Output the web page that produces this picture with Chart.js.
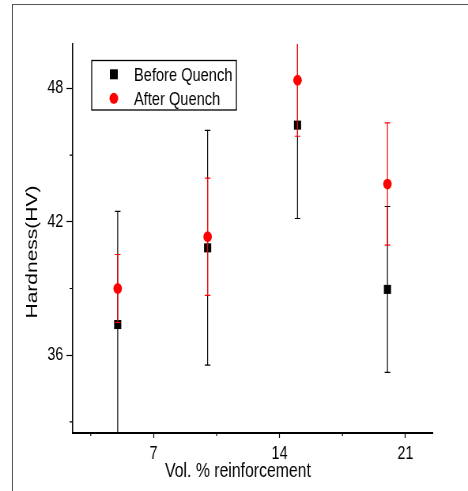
<!DOCTYPE html>
<html lang="en">
<head>
  <meta charset="UTF-8" />
  <title>Hardness vs Vol. % reinforcement</title>
  <script src="https://cdn.jsdelivr.net/npm/chart.js"></script>
  <style>
    html, body { margin: 0; padding: 0; background: #fff; overflow: hidden; }
    .frame {
      position: absolute; left: 12px; top: 4px; width: 470px; height: 500px;
      border-left: 1.5px solid #555; border-top: 1.5px solid #555;
    }
    /* the plot is drawn wide and squeezed horizontally */
    .wrap {
      position: absolute; left: 0; top: 0; width: 592px; height: 491px;
      transform: scaleX(0.7905); transform-origin: 0 0;
    }
  </style>
</head>
<body>
  <div class="frame"></div>
  <div class="wrap">
    <canvas id="hardness" width="592" height="491"></canvas>
  </div>

  <script>
    // Vol. % reinforcement
    const volPercent = [5, 10, 15, 20];

    // Hardness (HV) and error (±)
    const beforeQuench = [37.38, 40.83, 46.35, 38.96];
    const beforeErr = [5.09, 5.28, 4.2, 3.73];
    const afterQuench = [39.0, 41.33, 48.37, 43.7];
    const afterErr = [1.53, 2.64, 2.52, 2.75];

    // axis ticks (all positions, and the ones that get a label)
    const xTicks = [3.5, 7, 10.5, 14, 17.5, 21];
    const xLabels = [7, 14, 21];
    const yTicks = [33, 36, 39, 42, 45, 48];
    const yLabels = [36, 42, 48];

    const FONT = 'Liberation Sans, Arial, sans-serif';

    const points = (xs, ys) => xs.map((x, i) => ({ x: x, y: ys[i] }));

    // vertical error bars with caps, drawn under each dataset's markers
    const errorBars = {
      id: 'errorBars',
      beforeDatasetDraw(chart, args) {
        const ds = chart.data.datasets[args.index];
        const { ctx, chartArea: a, scales: { x, y } } = chart;
        ctx.save();
        ctx.beginPath();
        ctx.rect(a.left, a.top, a.right - a.left, a.bottom - a.top);
        ctx.clip();
        ctx.strokeStyle = ds.errorColor;
        ctx.lineWidth = 1.2;
        ds.data.forEach((p, i) => {
          const px = x.getPixelForValue(p.x);
          const hi = y.getPixelForValue(p.y + ds.errors[i]);
          const lo = y.getPixelForValue(p.y - ds.errors[i]);
          ctx.beginPath();
          ctx.moveTo(px, hi); ctx.lineTo(px, lo);
          ctx.moveTo(px - 3.5, hi); ctx.lineTo(px + 3.5, hi);
          ctx.moveTo(px - 3.5, lo); ctx.lineTo(px + 3.5, lo);
          ctx.stroke();
        });
        ctx.restore();
      }
    };

    // minor ticks, axis titles and the boxed legend
    const decorations = {
      id: 'decorations',
      afterDraw(chart) {
        const { ctx, chartArea: a, scales: { x, y } } = chart;
        ctx.save();
        ctx.strokeStyle = '#000';
        ctx.lineWidth = 1.2;
        ctx.beginPath();
        xTicks.filter(v => !xLabels.includes(v)).forEach(v => {
          const px = x.getPixelForValue(v);
          ctx.moveTo(px, a.bottom); ctx.lineTo(px, a.bottom + 3);
        });
        yTicks.filter(v => !yLabels.includes(v)).forEach(v => {
          const py = y.getPixelForValue(v);
          ctx.moveTo(a.left, py); ctx.lineTo(a.left - 4, py);
        });
        ctx.stroke();

        ctx.fillStyle = '#000';
        ctx.font = '20px ' + FONT;
        ctx.textAlign = 'center';
        ctx.textBaseline = 'alphabetic';
        ctx.fillText('Vol. % reinforcement', 301, 477);

        ctx.save();
        ctx.translate(47, 252);
        ctx.rotate(-Math.PI / 2);
        ctx.font = '21px ' + FONT;
        ctx.fillText('Hardness(HV)', 0, 0);
        ctx.restore();

        // legend
        ctx.lineWidth = 1.3;
        ctx.strokeRect(116, 60.5, 183, 49.5);
        ctx.font = '18.5px ' + FONT;
        ctx.textAlign = 'left';
        const rows = [74.3, 98.3];
        chart.data.datasets.forEach((ds, i) => {
          const cy = rows[i];
          ctx.fillStyle = ds.backgroundColor;
          if (ds.pointStyle === 'rect') {
            ctx.fillRect(139, cy - 5, 10, 10);
          } else {
            ctx.beginPath();
            ctx.arc(144, cy, 5.5, 0, Math.PI * 2);
            ctx.fill();
          }
          ctx.fillStyle = '#000';
          ctx.fillText(ds.label, 169.5, cy + 7);
        });
        ctx.restore();
      }
    };

    new Chart(document.getElementById('hardness'), {
      type: 'scatter',
      data: {
        datasets: [
          {
            label: 'Before Quench',
            data: points(volPercent, beforeQuench),
            errors: beforeErr,
            errorColor: '#000',
            pointStyle: 'rect',
            radius: 6.4,
            backgroundColor: '#000',
            borderWidth: 0,
            order: 1
          },
          {
            label: 'After Quench',
            data: points(volPercent, afterQuench),
            errors: afterErr,
            errorColor: '#ff0000',
            pointStyle: 'circle',
            radius: 5.4,
            backgroundColor: '#ff0000',
            borderWidth: 0,
            order: 0
          }
        ]
      },
      options: {
        responsive: false,
        animation: false,
        layout: { padding: { left: 0, top: 44, right: 45, bottom: 0 } },
        plugins: {
          legend: { display: false },
          tooltip: { enabled: false }
        },
        scales: {
          x: {
            type: 'linear',
            min: 2.5,
            max: 22.5,
            afterFit: s => { s.height = 58; },
            afterBuildTicks: s => { s.ticks = xTicks.map(v => ({ value: v })); },
            border: { display: true, color: '#000', width: 2 },
            grid: {
              drawOnChartArea: false,
              tickLength: 5,
              tickWidth: 1.2,
              tickColor: c => xLabels.includes(c.tick.value) ? '#000' : 'rgba(0,0,0,0)'
            },
            ticks: {
              autoSkip: false,
              maxRotation: 0,
              padding: 5,
              color: '#000',
              font: { family: FONT, size: 18 },
              callback: v => xLabels.includes(v) ? String(v) : ''
            }
          },
          y: {
            min: 32.5,
            max: 50,
            afterFit: s => { s.width = 92; },
            afterBuildTicks: s => { s.ticks = yTicks.map(v => ({ value: v })); },
            border: { display: true, color: '#000', width: 1.5 },
            grid: {
              drawOnChartArea: false,
              tickLength: 8,
              tickWidth: 1.2,
              tickColor: c => yLabels.includes(c.tick.value) ? '#000' : 'rgba(0,0,0,0)'
            },
            ticks: {
              autoSkip: false,
              padding: 4,
              color: '#000',
              font: { family: FONT, size: 18 },
              callback: v => yLabels.includes(v) ? String(v) : ''
            }
          }
        }
      },
      plugins: [errorBars, decorations]
    });
  </script>
</body>
</html>
